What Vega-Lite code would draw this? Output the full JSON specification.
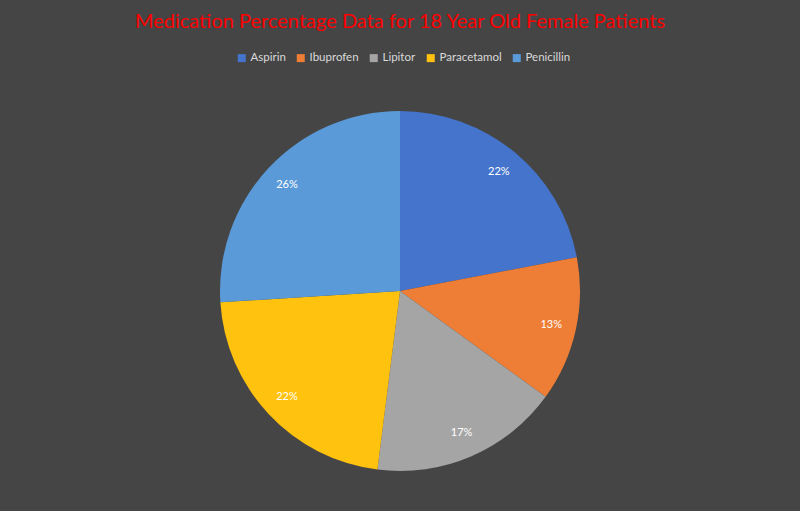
{
  "$schema": "https://vega.github.io/schema/vega-lite/v6.json",
  "width": 800,
  "height": 440,
  "autosize": {"type": "none"},
  "padding": {"top": 71, "left": 0, "right": 0, "bottom": 0},
  "background": "#454545",
  "config": {"view": {"stroke": null}},
  "title": {
    "text": "Medication Percentage Data for 18 Year Old Female Patients",
    "color": "#FF0000",
    "font": "Lato",
    "fontSize": 20,
    "fontWeight": "normal",
    "anchor": "middle",
    "frame": "group",
    "offset": 20
  },
  "data": {
    "values": [
      {"medication": "Aspirin", "share": 0.22},
      {"medication": "Ibuprofen", "share": 0.13},
      {"medication": "Lipitor", "share": 0.17},
      {"medication": "Paracetamol", "share": 0.22},
      {"medication": "Penicillin", "share": 0.26}
    ]
  },
  "encoding": {
    "theta": {"field": "share", "type": "quantitative", "stack": true},
    "order": {"field": "medication", "sort": "ascending"},
    "color": {
      "field": "medication",
      "type": "nominal",
      "scale": {
        "domain": ["Aspirin", "Ibuprofen", "Lipitor", "Paracetamol", "Penicillin"],
        "range": ["#4574CC", "#EE7D35", "#A5A5A5", "#FFC20E", "#5A9AD8"]
      },
      "legend": {
        "orient": "none",
        "legendX": 236,
        "legendY": -19,
        "direction": "horizontal",
        "title": null,
        "symbolType": "square",
        "symbolSize": 64,
        "symbolStrokeWidth": 0,
        "labelColor": "#D9D9D9",
        "labelFont": "Lato",
        "labelFontSize": 11.5,
        "labelOffset": 3,
        "columnPadding": 9
      }
    }
  },
  "layer": [
    {
      "mark": {"type": "arc", "outerRadius": 180, "stroke": null}
    },
    {
      "mark": {"type": "text", "radius": 155, "color": "#FFFFFF", "font": "Lato", "fontSize": 11},
      "encoding": {
        "text": {"field": "share", "type": "quantitative", "format": ".0%"},
        "detail": {"field": "medication"},
        "color": {"value": "#FFFFFF"}
      }
    }
  ]
}
